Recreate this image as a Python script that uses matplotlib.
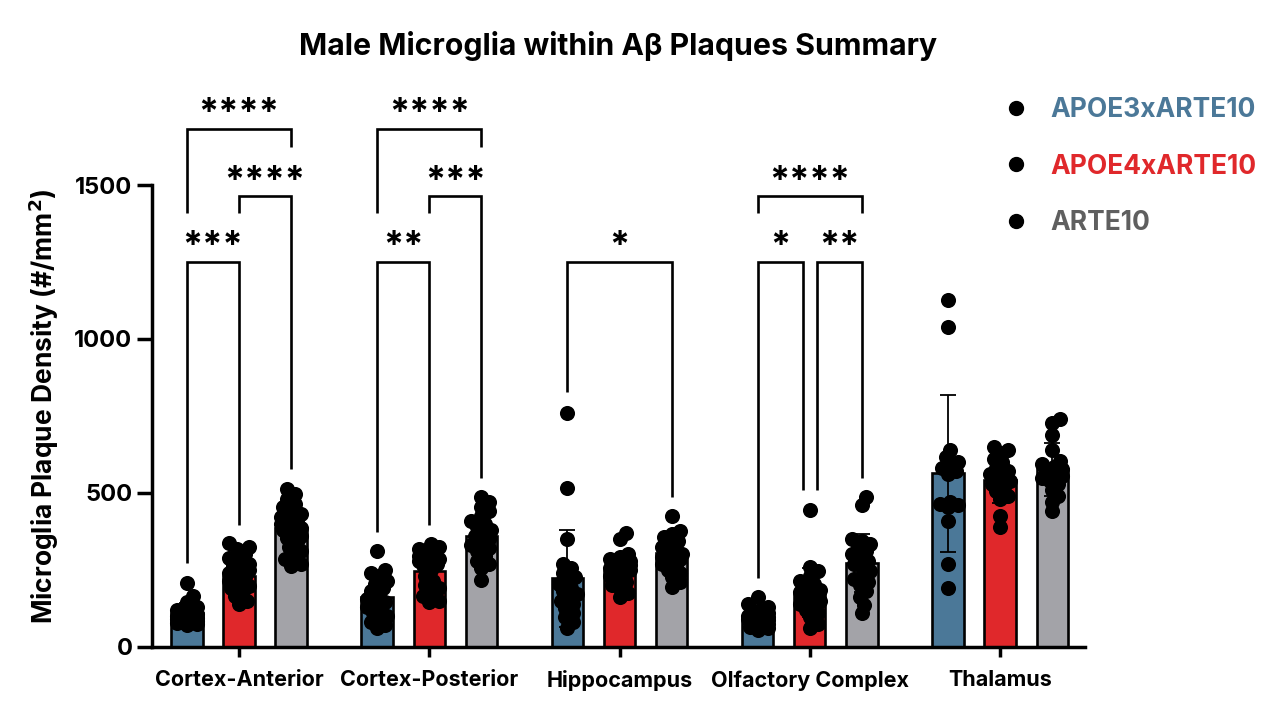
import numpy as np
import matplotlib
matplotlib.use("Agg")
import matplotlib.pyplot as plt
from matplotlib.lines import Line2D

plt.rcParams['font.family'] = ['Inter', 'DejaVu Sans']
plt.rcParams['font.weight'] = 'bold'

regions = ['Cortex-Anterior', 'Cortex-Posterior', 'Hippocampus', 'Olfactory Complex', 'Thalamus']
genotypes = ['APOE3xARTE10', 'APOE4xARTE10', 'ARTE10']
colors = ['#4b7898', '#e0282b', '#a3a3a8']
label_colors = ['#4b7898', '#e0282b', '#5f5f5f']

# bar heights (mean) and SD, rows = regions, cols = genotypes
means = [[108, 230, 385],
         [160, 246, 360],
         [222, 246, 305],
         [92, 175, 272],
         [563, 541, 576]]
sds = [[35, 55, 70],
       [65, 60, 65],
       [158, 50, 55],
       [30, 80, 95],
       [256, 75, 87]]

# individual animals
points = {
    (0, 0): [206, 165, 145, 130, 120, 115, 110, 105, 100, 98, 95, 92, 90, 88, 85, 82, 80, 78, 75, 70],
    (0, 1): [336, 325, 318, 300, 287, 280, 270, 262, 255, 248, 240, 232, 225, 215, 205, 198, 190, 180, 165, 150, 140],
    (0, 2): [512, 495, 480, 465, 455, 440, 430, 420, 412, 405, 398, 390, 385, 378, 370, 360, 352, 340, 325, 310, 300, 285, 270, 262],
    (1, 0): [310, 250, 240, 230, 215, 205, 190, 180, 165, 155, 145, 140, 130, 120, 110, 100, 90, 80, 70, 60],
    (1, 1): [335, 325, 318, 310, 300, 295, 290, 285, 280, 275, 270, 265, 250, 230, 215, 200, 190, 180, 165, 150, 145],
    (1, 2): [485, 470, 455, 440, 425, 410, 400, 390, 380, 370, 360, 350, 340, 330, 320, 310, 295, 280, 268, 255, 218],
    (2, 0): [760, 515, 350, 270, 255, 240, 225, 215, 205, 190, 180, 170, 160, 150, 140, 125, 110, 95, 80, 60],
    (2, 1): [370, 350, 300, 290, 285, 280, 275, 270, 265, 260, 255, 250, 245, 240, 230, 220, 210, 200, 190, 175, 160],
    (2, 2): [425, 375, 365, 355, 345, 335, 325, 315, 310, 300, 295, 290, 285, 280, 270, 260, 250, 240, 225, 210, 195],
    (3, 0): [160, 140, 130, 120, 115, 110, 105, 100, 95, 92, 90, 88, 85, 80, 75, 70, 65, 60, 55],
    (3, 1): [445, 258, 245, 230, 215, 205, 195, 185, 178, 172, 168, 162, 155, 148, 140, 130, 120, 110, 95, 75, 60],
    (3, 2): [485, 460, 350, 345, 335, 320, 310, 300, 290, 280, 270, 260, 245, 230, 220, 210, 200, 180, 160, 135, 108],
    (4, 0): [1128, 1038, 640, 615, 600, 590, 580, 570, 560, 470, 465, 460, 455, 410, 270, 190],
    (4, 1): [650, 640, 630, 610, 600, 580, 570, 560, 555, 540, 530, 520, 505, 490, 480, 425, 390],
    (4, 2): [740, 728, 688, 640, 605, 595, 585, 578, 570, 562, 555, 548, 540, 530, 510, 490, 470, 440],
}

# significance: region, left col, right col, bracket height, leg ends (above data), label
comparisons = [
    (0, 0, 2, 1682, 272, 577, '****'),
    (0, 1, 2, 1464, 395, 577, '****'),
    (0, 0, 1, 1250, 272, 395, '***'),
    (1, 0, 2, 1682, 373, 548, '****'),
    (1, 1, 2, 1464, 395, 548, '***'),
    (1, 0, 1, 1250, 373, 395, '**'),
    (2, 0, 2, 1250, 828, 487, '*'),
    (3, 0, 2, 1464, 223, 548, '****'),
    (3, 0, 1, 1250, 223, 509, '*'),
    (3, 1, 2, 1250, 509, 548, '**'),
]

spacing = 3.65
width = 0.6
leg_gap = 159

fig = plt.figure(figsize=(12.8, 7.12), dpi=100)
ax = fig.add_axes([0.1187, 0.0917, 0.729, 0.7781])
ax.set_xlim(-1.67, 4 * spacing + 1.63)
ax.set_ylim(0, 1800)


def xpos(r, g):
    return r * spacing + (g - 1)


for r in range(len(regions)):
    for g in range(3):
        x = xpos(r, g)
        ax.bar(x, means[r][g], width=width, color=colors[g], edgecolor='black',
               linewidth=1.9, zorder=2)
        ax.errorbar(x, means[r][g], yerr=sds[r][g], color='black', capsize=6,
                    elinewidth=1.3, capthick=1.3, zorder=3)

# swarm layout in display space
diam = 14.0
for (r, g), vals in points.items():
    x0 = xpos(r, g)
    vals = sorted(vals)
    placed = []
    cx0 = ax.transData.transform((x0, 0))[0]
    for v in vals:
        cy = ax.transData.transform((x0, v))[1]
        best, best_cost = 0.0, None
        for k in range(0, 6):
            for sgn in ([1, -1] if k else [1]):
                off = sgn * k * 2.0
                cost = 0
                for px, py in placed:
                    d = np.hypot(cx0 + off - px, cy - py)
                    if d < diam * 0.6:
                        cost += diam * 0.6 - d
                if best_cost is None or cost < best_cost - 1e-9:
                    best, best_cost = off, cost
                if cost == 0:
                    break
            if best_cost == 0:
                break
        placed.append((cx0 + best, cy))
        xd = ax.transData.inverted().transform((cx0 + best, cy))[0]
        ax.scatter(xd, v, s=118, color='black', linewidths=0, zorder=4)

# brackets: a leg stops above the next bracket under it in the same column
for r, a, b, top, ya, yb, lab in comparisons:
    lower_a = [c[3] for c in comparisons if c[0] == r and c[3] < top and a in (c[1], c[2])]
    lower_b = [c[3] for c in comparisons if c[0] == r and c[3] < top and b in (c[1], c[2])]
    if lower_a:
        ya = max(lower_a) + leg_gap
    if lower_b:
        yb = max(lower_b) + leg_gap
    xa, xb = xpos(r, a), xpos(r, b)
    same = [c for c in comparisons if c[0] == r and c[3] == top]
    if len(same) > 1:
        if a == 1:
            xa += 0.13
        if b == 1:
            xb -= 0.13
    ax.plot([xa, xa, xb, xb], [ya, top, top, yb], color='black', lw=1.9,
            solid_joinstyle='miter', solid_capstyle='butt', zorder=5, clip_on=False)
    ax.annotate(lab, ((xa + xb) / 2, top), xytext=(0, -1), textcoords='offset points',
                ha='center', va='bottom', fontsize=26, fontweight='bold')

ax.spines['top'].set_visible(False)
ax.spines['right'].set_visible(False)
ax.spines['left'].set_linewidth(2.5)
ax.spines['bottom'].set_linewidth(2.5)
ax.spines['left'].set_bounds(0, 1500)
ax.set_yticks([0, 500, 1000, 1500])
ax.tick_params(axis='y', length=11, width=2.5, labelsize=17, pad=3)
ax.set_xticks([xpos(r, 1) for r in range(len(regions))])
ax.set_xticklabels(regions)
ax.tick_params(axis='x', length=7, width=2.5, labelsize=15.5, pad=10)
for t in ax.get_xticklabels() + ax.get_yticklabels():
    t.set_fontweight('bold')

ax.set_ylabel('Microglia Plaque Density (#/mm$^2$)', fontsize=19, fontweight='bold')
ax.yaxis.set_label_coords(-0.097, 0.434)

fig.suptitle('Male Microglia within A\u03b2 Plaques Summary', x=0.483, y=0.956,
             fontsize=21.8, fontweight='bold')

handles = [Line2D([], [], marker='o', color='black', linestyle='none', markersize=10)
           for _ in genotypes]
leg = fig.legend(handles, genotypes, loc='upper left', bbox_to_anchor=(0.765, 0.897),
                 frameon=False, fontsize=19, labelspacing=1.16, handlelength=1.0,
                 handletextpad=0.8, labelcolor=label_colors)
for t in leg.get_texts():
    t.set_fontweight('bold')

fig.savefig('out.png', dpi=100)
